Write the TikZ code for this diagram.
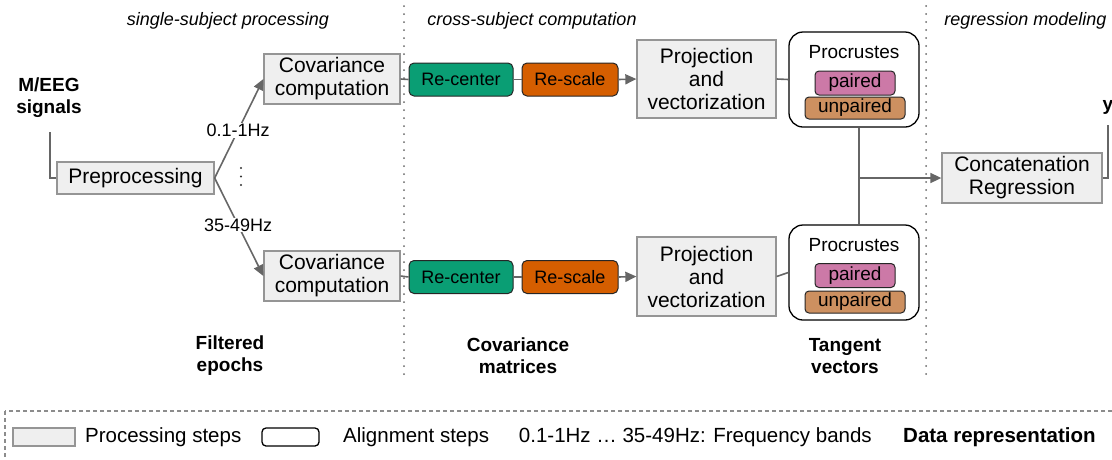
\documentclass[tikz,border=0pt]{standalone}
\usepackage{fontspec}
\setmainfont{Liberation Sans}
\usetikzlibrary{arrows.meta,calc}
\definecolor{boxgray}{HTML}{EFEFEF}
\definecolor{boxborder}{HTML}{959595}
\definecolor{linegray}{HTML}{666666}
\definecolor{recenterc}{HTML}{0A9E74}
\definecolor{rescalec}{HTML}{D55E00}
\definecolor{pairedc}{HTML}{CC79A7}
\definecolor{unpairedc}{HTML}{CD9060}
\begin{document}
\begin{tikzpicture}[x=1pt,y=-1pt,
 procbox/.style={draw=boxborder, fill=boxgray, line width=1.3pt, inner sep=0pt, align=center, font=\fontsize{21}{23}\selectfont},
 colbox/.style={draw=black!85, rounded corners=5pt, line width=1pt, inner sep=0pt, minimum height=33pt, font=\fontsize{18}{20}\selectfont},
 alignbox/.style={draw=black, rounded corners=14pt, line width=1.3pt, fill=white, inner sep=0pt, minimum width=130pt, minimum height=95pt},
 tagbox/.style={draw=black!85, rounded corners=4pt, line width=1pt, inner sep=0pt, font=\fontsize{19}{21}\selectfont},
 conn/.style={draw=linegray, line width=1.6pt},
 arr/.style={conn, -{Triangle[length=11pt,width=10pt]}},
 hdr/.style={anchor=base, inner sep=0pt, font=\fontsize{18}{20}\selectfont\itshape},
 datarep/.style={align=center, inner sep=0pt, font=\fontsize{19}{22}\selectfont\bfseries},
 sepline/.style={draw=black!60, line width=2pt, line cap=round, dash pattern=on 0pt off 8pt},
 bandlabel/.style={fill=white, inner sep=1pt, font=\fontsize{18}{20}\selectfont},
 legtext/.style={anchor=base west, inner sep=0pt, font=\fontsize{20.5}{22}\selectfont}
]
\useasboundingbox (0,0) rectangle (1112,459);
\clip (0,0) rectangle (1112,459);

% headers
\node[hdr] (h1) at (228,25) {single-subject processing};
\node[hdr] (h2) at (532,25) {cross-subject computation};
\node[hdr] (h3) at (1025.5,25) {regression modeling};

% separators
\draw[sepline] (404,6) -- (404,378);
\draw[sepline] (926,6) -- (926,378);

% input
\node[datarep] (sig) at (49,98) {M/EEG\\signals};
\coordinate (sigfoot) at (50,132);
\node[procbox, minimum width=157pt, minimum height=32pt] (prep) at (135.5,178) {Preprocessing};

% covariance
\node[procbox, minimum width=136pt, minimum height=50pt] (cov1) at (332,79) {Covariance\\computation};
\node[procbox, minimum width=136pt, minimum height=50pt] (cov2) at (332,276) {Covariance\\computation};

% re-center / re-scale
\node[colbox, fill=recenterc, minimum width=104pt] (rc1) at (461,79.5) {Re-center};
\node[colbox, fill=rescalec, minimum width=96pt] (rs1) at (570,79.5) {Re-scale};
\node[colbox, fill=recenterc, minimum width=104pt] (rc2) at (461,277) {Re-center};
\node[colbox, fill=rescalec, minimum width=96pt] (rs2) at (570,277) {Re-scale};

% projection
\node[procbox, minimum width=139pt, minimum height=78pt] (proj1) at (706.5,79) {Projection\\and\\vectorization};
\node[procbox, minimum width=139pt, minimum height=79pt] (proj2) at (706.5,276.5) {Projection\\and\\vectorization};

% procrustes
\node[alignbox] (proc1) at (854,79.5) {};
\node[inner sep=0pt, font=\fontsize{19}{21}\selectfont] (proct1) at ($(proc1.center)+(0,-27.5)$) {Procrustes};
\node[tagbox, fill=pairedc, minimum width=80pt, minimum height=24pt] (pa1) at ($(proc1.center)+(1,3.5)$) {paired};
\node[tagbox, fill=unpairedc, minimum width=100pt, minimum height=22pt] (un1) at ($(proc1.center)+(1,28.5)$) {unpaired};

\node[alignbox] (proc2) at (854,272.5) {};
\node[inner sep=0pt, font=\fontsize{19}{21}\selectfont] (proct2) at ($(proc2.center)+(0,-27.5)$) {Procrustes};
\node[tagbox, fill=pairedc, minimum width=80pt, minimum height=24pt] (pa2) at ($(proc2.center)+(1,3)$) {paired};
\node[tagbox, fill=unpairedc, minimum width=100pt, minimum height=22pt] (un2) at ($(proc2.center)+(1,29.5)$) {unpaired};

% regression
\node[procbox, minimum width=160pt, minimum height=50pt] (concat) at (1022,178) {Concatenation\\Regression};
\node[anchor=base, inner sep=0pt, font=\fontsize{19}{21}\selectfont\bfseries] (yout) at (1108,110) {y};
\coordinate (yfoot) at (1108,125);
\coordinate (junc) at (859,178);

% data representation labels
\node[datarep] (dr1) at (230,356) {Filtered\\epochs};
\node[datarep] (dr2) at (518,356) {Covariance\\matrices};
\node[datarep] (dr3) at (845,356) {Tangent\\vectors};

% connectors
\draw[conn] (sigfoot) |- (prep.west);
\draw[arr] (prep.east) -- node[bandlabel, pos=0.48] (b1) {0.1-1Hz} (cov1.west);
\draw[arr] (prep.east) -- node[bandlabel, pos=0.48] (b2) {35-49Hz} (cov2.west);
\foreach \yy in {168,176.5,185} \fill[black!80] (241,\yy) circle (1.1pt);

\draw[conn] (cov1.east) -- (rc1.west);
\draw[conn] (rc1.east) -- (rs1.west);
\draw[arr] (rs1.east) -- (proj1.west);
\draw[conn] (proj1.east) -- (proc1.west);
\draw[conn] (cov2.east) -- (rc2.west);
\draw[conn] (rc2.east) -- (rs2.west);
\draw[arr] (rs2.east) -- (proj2.west);
\draw[conn] (proj2.east) -- (proc2.west);

\draw[conn] (proc1.south -| junc) -- (proc2.north -| junc);
\draw[arr] (junc) -- (concat.west);
\draw[conn] (concat.east) -| (yfoot);

% legend
\draw[draw=black!45, line width=1.2pt, dash pattern=on 4pt off 3pt] (5,411) rectangle (1130,480);
\node[draw=boxborder, fill=boxgray, line width=1.3pt, inner sep=0pt, minimum width=62pt, minimum height=18pt] (lg1) at (44,437) {};
\node[legtext] (lt1) at (85,442) {Processing steps};
\node[draw=black, rounded corners=4pt, line width=1.3pt, fill=white, inner sep=0pt, minimum width=57pt, minimum height=18pt] (lg2) at (290.5,437) {};
\node[legtext] (lt2) at (343,442) {Alignment steps};
\node[legtext, anchor=base east] (lt3) at (872,442) {0.1-1Hz … 35-49Hz: Frequency bands};
\node[legtext, font=\fontsize{20.5}{22}\selectfont\bfseries] (lt4) at (903,442) {Data representation};
\end{tikzpicture}
\end{document}
